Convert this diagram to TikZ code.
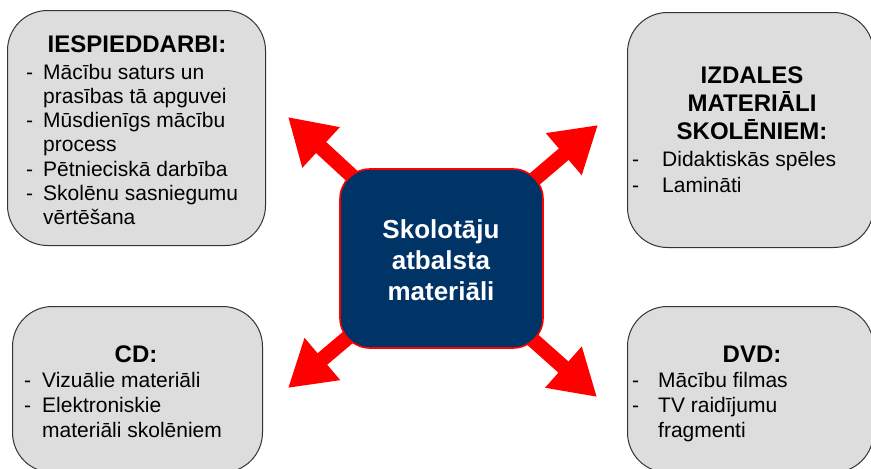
\documentclass[tikz,border=0pt]{standalone}
\usepackage{fontspec}
\setmainfont{Liberation Sans}
\usetikzlibrary{arrows.meta}
\definecolor{boxgray}{HTML}{DDDDDD}
\definecolor{navyblue}{HTML}{003366}
\definecolor{arrowred}{HTML}{FF0000}
\begin{document}
\begin{tikzpicture}[x=1pt,y=-1pt,
  graybox/.style={draw=black!80, line width=1pt, fill=boxgray, rounded corners=40pt, anchor=north west, inner sep=0pt},
  centerbox/.style={draw=arrowred, line width=1.6pt, fill=navyblue, rounded corners=30pt, inner sep=0pt},
  body/.style={font=\fontsize{21}{24}\selectfont, inner sep=0pt, anchor=base west},
  head/.style={font=\fontsize{24}{28}\selectfont\bfseries, inner sep=0pt, anchor=base},
  ctext/.style={font=\fontsize{26}{31}\selectfont\bfseries, text=white, inner sep=0pt, anchor=base},
  bigarrow/.style={draw=arrowred, line width=15pt, -{Triangle[length=45pt,width=52pt]}}
]
\useasboundingbox (0,0) rectangle (871,469);
\clip (0,0) rectangle (871,469);

% outer boxes
\node[graybox, minimum width=258pt, minimum height=235pt] (b1) at (7,10) {};
\node[graybox, minimum width=246pt, minimum height=235pt] (b2) at (627,12) {};
\node[graybox, minimum width=250pt, minimum height=166pt] (b3) at (12,306) {};
\node[graybox, minimum width=246pt, minimum height=166pt] (b4) at (627,306) {};

% arrow tips
\coordinate (tUL) at (288,117);
\coordinate (tUR) at (598,125);
\coordinate (tLL) at (288,388);
\coordinate (tLR) at (597,397);
\coordinate (cc) at (441.5,258.5);

\draw[bigarrow] (cc) -- (tUL);
\draw[bigarrow] (cc) -- (tUR);
\draw[bigarrow] (cc) -- (tLL);
\draw[bigarrow] (cc) -- (tLR);

% center box
\node[centerbox, minimum width=203pt, minimum height=179pt] (c) at (cc) {};
\node[ctext] (c1) at (441,238) {Skolotāju};
\node[ctext] (c2) at (441,269) {atbalsta};
\node[ctext] (c3) at (441,300) {materiāli};

% box 1 text
\node[head] (h1) at (137,52) {IESPIEDDARBI:};
\node[body] (d11) at (26,79) {-};
\node[body] (l11) at (43,79) {Mācību saturs un};
\node[body] (l12) at (43,103.3) {prasības tā apguvei};
\node[body] (d13) at (26,127.6) {-};
\node[body] (l13) at (43,127.6) {Mūsdienīgs mācību};
\node[body] (l14) at (43,151.9) {process};
\node[body] (d15) at (26,176.2) {-};
\node[body] (l15) at (43,176.2) {Pētnieciskā darbība};
\node[body] (d16) at (26,200.5) {-};
\node[body] (l16) at (43,200.5) {Skolēnu sasniegumu};
\node[body] (l17) at (43,224.8) {vērtēšana};

% box 2 text
\node[head] (h21) at (752,83) {IZDALES};
\node[head] (h22) at (752,111) {MATERIĀLI};
\node[head] (h23) at (752,139) {SKOLĒNIEM:};
\node[body] (d21) at (632,166) {-};
\node[body] (l21) at (662,166) {Didaktiskās spēles};
\node[body] (d22) at (632,192) {-};
\node[body] (l22) at (662,192) {Lamināti};

% box 3 text
\node[head] (h3) at (136,362) {CD:};
\node[body] (d31) at (24,387) {-};
\node[body] (l31) at (42,387) {Vizuālie materiāli};
\node[body] (d32) at (24,412) {-};
\node[body] (l32) at (42,412) {Elektroniskie};
\node[body] (l33) at (42,437) {materiāli skolēniem};

% box 4 text
\node[head] (h4) at (752,362) {DVD:};
\node[body] (d41) at (632,387) {-};
\node[body] (l41) at (658,387) {Mācību filmas};
\node[body] (d42) at (632,412) {-};
\node[body] (l42) at (658,412) {TV raidījumu};
\node[body] (l43) at (658,437) {fragmenti};
\end{tikzpicture}
\end{document}
